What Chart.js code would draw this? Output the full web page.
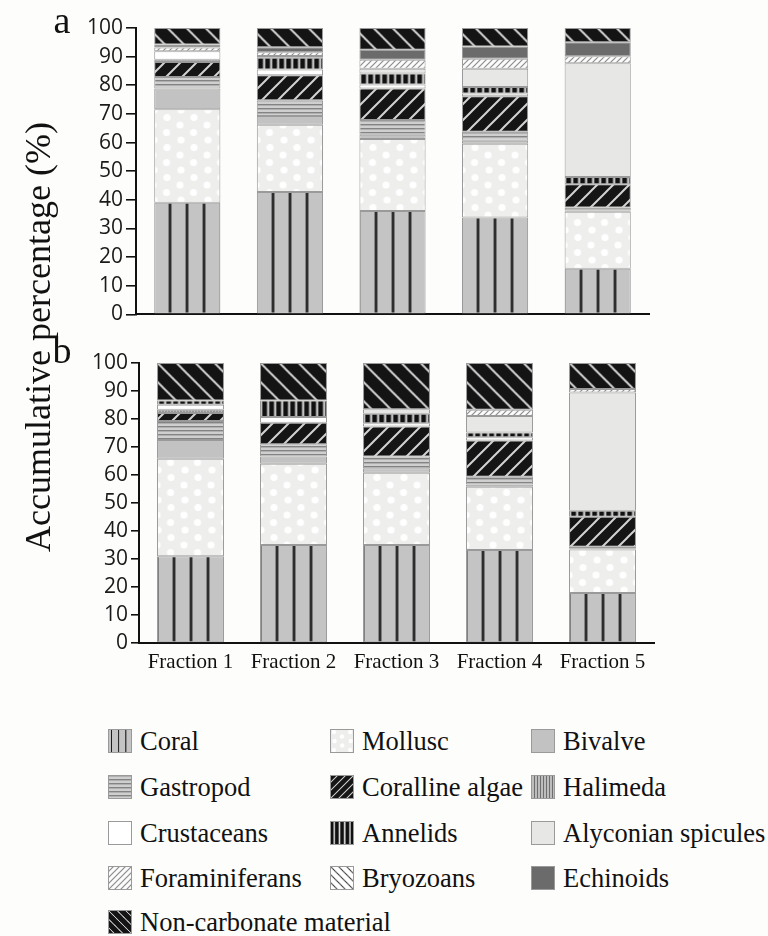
<!DOCTYPE html>
<html>
<head>
<meta charset="utf-8">
<script src="https://cdn.jsdelivr.net/npm/chart.js@4.4.1/dist/chart.umd.min.js"></script>
<style>
  html, body { margin: 0; padding: 0; background: #fdfdfb; }
  body { width: 768px; height: 936px; position: relative; overflow: hidden;
         font-family: "Liberation Serif", "Times New Roman", serif; color: #111; }
  .panel { position: absolute; left: 0; width: 768px; }
  #wrapA { top: 0; height: 330px; }
  #wrapB { top: 330px; height: 350px; }
  .tag { position: absolute; font-size: 38px; line-height: 1; transform: translate(-50%, -50%); }
  #ytitle { position: absolute; left: 38px; top: 337px; font-size: 36px; line-height: 1; white-space: nowrap;
            transform: translate(-50%, -50%) rotate(-90deg); }
  .item { position: absolute; display: flex; align-items: center; height: 26px;
          font-size: 26.5px; white-space: nowrap; }
  .item canvas { display: block; margin-right: 8px; }
</style>
</head>
<body>
<div class="panel" id="wrapA"><canvas id="chartA" width="768" height="330"></canvas></div>
<div class="panel" id="wrapB"><canvas id="chartB" width="768" height="350"></canvas></div>
<div class="tag" style="left:62px; top:20px;">a</div>
<div class="tag" style="left:62px; top:350px;">b</div>
<div id="ytitle">Accumulative percentage (%)</div>
<div id="legend"></div>

<script>
// Sediment fractions on the x axis
const fractions = ['Fraction 1', 'Fraction 2', 'Fraction 3', 'Fraction 4', 'Fraction 5'];

// Components, stacked from the bottom of each bar upwards
const seriesNames = ['Coral', 'Mollusc', 'Bivalve', 'Gastropod', 'Coralline algae', 'Halimeda',
  'Crustaceans', 'Annelids', 'Alyconian spicules', 'Foraminiferans', 'Bryozoans', 'Echinoids',
  'Non-carbonate material'];

// Panel a: percentage of each component per fraction
const coralA        = [39.0, 42.7, 36.1, 33.8, 15.9];
const molluscA      = [32.6, 23.5, 25.1, 25.8, 19.9];
const bivalveA      = [7.3, 3.1, 1.5, 1.0, 0.5];
const gastropodA    = [4.0, 5.5, 5.2, 3.2, 1.0];
const algaeA        = [5.2, 8.7, 11.0, 12.4, 8.1];
const halimedaA     = [0.8, 0, 0, 0, 0];
const crustaceansA  = [3.0, 2.0, 1.4, 0.9, 0];
const annelidsA     = [0, 4.1, 3.8, 2.3, 2.6];
const spiculesA     = [0, 0.6, 1.7, 6.4, 39.7];
const foraminifersA = [1.3, 1.3, 3.1, 3.5, 2.4];
const bryozoansA    = [0, 0, 0, 0, 0];
const echinoidsA    = [1.0, 1.8, 3.5, 4.2, 4.9];
const nonCarbA      = [5.8, 6.7, 7.6, 6.5, 5.0];

// Panel b: percentage of each component per fraction
const coralB        = [31.0, 35.0, 35.0, 33.2, 17.9];
const molluscB      = [34.8, 29.0, 25.8, 22.6, 15.5];
const bivalveB      = [6.7, 2.6, 1.6, 0.8, 0.4];
const gastropodB    = [6.8, 4.4, 4.2, 2.8, 0.6];
const algaeB        = [2.8, 7.7, 10.7, 12.9, 10.7];
const halimedaB     = [1.2, 0, 0, 0, 0];
const crustaceansB  = [1.8, 2.0, 1.2, 1.2, 0];
const annelidsB     = [1.5, 5.9, 3.4, 1.7, 2.1];
const spiculesB     = [0, 0, 1.6, 5.9, 42.3];
const foraminifersB = [0, 0, 0, 2.2, 1.2];
const bryozoansB    = [0, 0, 0, 0, 0];
const echinoidsB    = [0, 0, 0, 0, 0];
const nonCarbB      = [13.4, 13.4, 16.5, 16.7, 9.3];

// Y axis ticks
const yTicks = [0, 10, 20, 30, 40, 50, 60, 70, 80, 90, 100];

const panelA = [coralA, molluscA, bivalveA, gastropodA, algaeA, halimedaA, crustaceansA,
  annelidsA, spiculesA, foraminifersA, bryozoansA, echinoidsA, nonCarbA];
const panelB = [coralB, molluscB, bivalveB, gastropodB, algaeB, halimedaB, crustaceansB,
  annelidsB, spiculesB, foraminifersB, bryozoansB, echinoidsB, nonCarbB];

// ---- hatch / texture fills ----
function diag(g, s, dir, color, lw) {
  g.strokeStyle = color; g.lineWidth = lw; g.beginPath();
  for (let k = -1; k <= 2; k++) {
    if (dir > 0) { // '/'
      g.moveTo(-2, k * s + 2); g.lineTo(k * s + 2, -2);
    } else {       // '\'
      g.moveTo(k * s - 2, -2); g.lineTo(k * s + s + 2, s + 2);
    }
  }
  g.stroke();
}

const FILLS = {
  'Coral': { base: '#c4c4c4', w: 17, h: 4, leg: 0.42, draw(g, w, h) {
    g.fillStyle = '#c4c4c4'; g.fillRect(0, 0, w, h);
    g.fillStyle = '#151515'; g.fillRect(7.3, 0, 2.4, h); } },
  'Mollusc': { base: '#eeeeec', w: 27, h: 30, leg: 0.6, draw(g, w, h) {
    g.fillStyle = '#eeeeec'; g.fillRect(0, 0, w, h);
    g.fillStyle = '#ffffff';
    const pts = [[6.5, 5], [20, 12.5], [7.5, 20], [20.5, 27.5]];
    for (const [x, y] of pts) for (let dx = -1; dx <= 1; dx++) for (let dy = -1; dy <= 1; dy++) {
      g.beginPath(); g.arc(x + dx * w, y + dy * h, 3.6, 0, Math.PI * 2); g.fill();
    } } },
  'Bivalve': { base: '#c2c2c2' },
  'Gastropod': { base: '#c8c8c8', w: 4, h: 4, leg: 1, draw(g, w, h) {
    g.fillStyle = '#cfcfcf'; g.fillRect(0, 0, w, h);
    g.fillStyle = '#838383'; g.fillRect(0, 0, w, 1.4); } },
  'Coralline algae': { base: '#151515', w: 16, h: 16, leg: 0.5, draw(g, w, h) {
    g.fillStyle = '#151515'; g.fillRect(0, 0, w, h);
    diag(g, w, 1, '#d2d2d2', 2); } },
  'Halimeda': { base: '#b6b6b6', w: 3, h: 3, leg: 1, draw(g, w, h) {
    g.fillStyle = '#bdbdbd'; g.fillRect(0, 0, w, h);
    g.fillStyle = '#6e6e6e'; g.fillRect(0, 0, 1, h); } },
  'Crustaceans': { base: '#ffffff' },
  'Annelids': { base: '#111111', w: 7, h: 4, leg: 0.75, draw(g, w, h) {
    g.fillStyle = '#111111'; g.fillRect(0, 0, w, h);
    g.fillStyle = '#e6e6e6'; g.fillRect(4.6, 0, 2, h); } },
  'Alyconian spicules': { base: '#e7e7e6' },
  'Foraminiferans': { base: '#f7f7f7', w: 6, h: 6, leg: 1, draw(g, w, h) {
    g.fillStyle = '#fbfbfb'; g.fillRect(0, 0, w, h);
    diag(g, w, 1, '#8c8c8c', 1.2); } },
  'Bryozoans': { base: '#ffffff', w: 10, h: 10, leg: 0.8, draw(g, w, h) {
    g.fillStyle = '#ffffff'; g.fillRect(0, 0, w, h);
    diag(g, w, -1, '#222222', 1.2); } },
  'Echinoids': { base: '#6b6b6b' },
  'Non-carbonate material': { base: '#141414', w: 19, h: 19, leg: 0.45, draw(g, w, h) {
    g.fillStyle = '#141414'; g.fillRect(0, 0, w, h);
    diag(g, w, -1, '#d0d0d0', 2); } }
};

const tiles = {};
function tileFor(name) {
  if (!tiles[name]) {
    const spec = FILLS[name];
    const c = document.createElement('canvas');
    c.width = spec.w; c.height = spec.h;
    spec.draw(c.getContext('2d'), spec.w, spec.h);
    tiles[name] = c;
  }
  return tiles[name];
}

const patternCache = {};
function fillFor(name, ctx) {
  const spec = FILLS[name];
  if (!spec.draw || ctx.type !== 'data') return spec.base;
  const xs = ctx.chart.scales.x;
  const cx = Math.round(xs.getPixelForValue(ctx.dataIndex));
  const key = ctx.chart.id + '|' + name + '|' + cx;
  if (!patternCache[key]) {
    const p = ctx.chart.ctx.createPattern(tileFor(name), 'repeat');
    p.setTransform(new DOMMatrix().translate(cx - spec.w / 2, 0));
    patternCache[key] = p;
  }
  return patternCache[key];
}

Chart.defaults.font.family = '"Open Sans", "DejaVu Sans", sans-serif';

function makePanel(canvasId, values, o) {
  const datasets = seriesNames.map((name, i) => ({
    label: name,
    data: values[i].map(v => (v === 0 ? null : v)),
    backgroundColor: ctx => fillFor(name, ctx),
    borderColor: '#9a9a9a',
    borderWidth: 1,
    borderSkipped: false,
    barPercentage: o.barPct,
    categoryPercentage: 1
  }));
  return new Chart(document.getElementById(canvasId), {
    type: 'bar',
    data: { labels: fractions, datasets },
    options: {
      responsive: false,
      animation: false,
      devicePixelRatio: 1,
      layout: { padding: { top: o.top, right: o.right, left: 0, bottom: 0 } },
      plugins: { legend: { display: false }, tooltip: { enabled: false } },
      scales: {
        x: {
          stacked: true,
          grid: { display: false, drawTicks: false },
          border: { display: true, color: '#111', width: 2 },
          ticks: {
            display: o.showX,
            color: '#111',
            padding: 7,
            maxRotation: 0,
            autoSkip: false,
            font: { family: '"Liberation Serif", "Times New Roman", serif', size: 21 }
          },
          afterFit: s => { s.height = o.xh; }
        },
        y: {
          stacked: true,
          min: 0,
          max: 100,
          afterBuildTicks: s => { s.ticks = yTicks.map(v => ({ value: v })); },
          ticks: { color: '#1a1a1a', padding: 3, autoSkip: false, font: { size: 21 } },
          grid: { drawOnChartArea: false, drawTicks: true, tickLength: o.tick, color: '#111', lineWidth: 1.6 },
          border: { display: true, color: '#111', width: 2 },
          afterFit: s => { s.width = o.yw; }
        }
      }
    }
  });
}

makePanel('chartA', panelA, { barPct: 0.645, top: 28, right: 119, xh: 14, yw: 136, tick: 10, showX: false });
makePanel('chartB', panelB, { barPct: 0.65, top: 33, right: 114, xh: 37, yw: 139, tick: 8, showX: true });

// ---- legend (three columns) ----
const legendCols = [108, 330, 531];
const legendRows = [741, 787, 833, 878, 922];
const legend = document.getElementById('legend');
seriesNames.forEach((name, i) => {
  const item = document.createElement('div');
  item.className = 'item';
  item.style.left = legendCols[i % 3] + 'px';
  item.style.top = (legendRows[Math.floor(i / 3)] - 13) + 'px';
  const sw = document.createElement('canvas');
  sw.width = 24; sw.height = 24;
  const g = sw.getContext('2d');
  const spec = FILLS[name];
  if (spec.draw) {
    const p = g.createPattern(tileFor(name), 'repeat');
    p.setTransform(new DOMMatrix().scale(spec.leg));
    g.fillStyle = p;
  } else {
    g.fillStyle = spec.base;
  }
  g.fillRect(0, 0, 24, 24);
  g.strokeStyle = '#9a9a9a'; g.lineWidth = 1; g.strokeRect(0.5, 0.5, 23, 23);
  const label = document.createElement('span');
  label.textContent = name;
  item.appendChild(sw);
  item.appendChild(label);
  legend.appendChild(item);
});
</script>
</body>
</html>
